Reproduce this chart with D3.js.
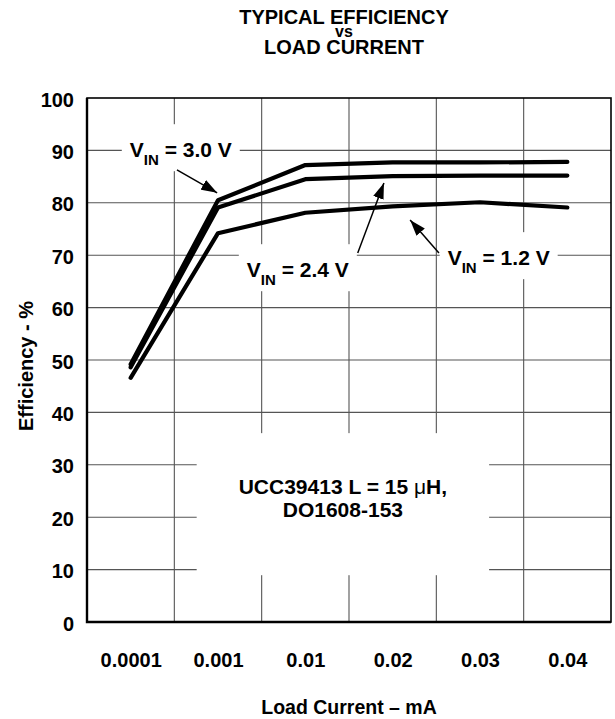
<!DOCTYPE html>
<html>
<head>
<meta charset="utf-8">
<script src="https://cdn.jsdelivr.net/npm/d3@7"></script>
<style>
  body { margin: 0; background: #fff; }
  text { font-family: "Liberation Sans", Arial, sans-serif; font-weight: bold; fill: #000; }
</style>
</head>
<body>
<svg id="chart" width="615" height="719"></svg>
<script>
// load current categories (mA) and efficiency (%) per input voltage
const categories = ['0.0001', '0.001', '0.01', '0.02', '0.03', '0.04'];
const vin30 = [49.2, 80.5, 87.2, 87.7, 87.7, 87.8];
const vin24 = [48.6, 79.1, 84.5, 85.1, 85.2, 85.2];
const vin12 = [46.6, 74.2, 78.1, 79.3, 80.1, 79.1];
const yTicks = [0, 10, 20, 30, 40, 50, 60, 70, 80, 90, 100];

const seriesList = [
    {name: '3.0 V', values: vin30},
    {name: '2.4 V', values: vin24},
    {name: '1.2 V', values: vin12}
];

// callouts: label anchor and arrow, x in category index units, y in %
const callouts = [
    {label: '3.0 V', tx: -0.01, ty: 88.7, from: [0.53, 86.3], to: [0.99, 81.9]},
    {label: '2.4 V', tx: 1.33, ty: 65.8, from: [2.60, 70.4], to: [2.90, 83.8]},
    {label: '1.2 V', tx: 3.63, ty: 68.1, from: [3.53, 70.4], to: [3.20, 76.7]}
];

const margin = {top: 98, right: 4, bottom: 97, left: 87};
const width = 615 - margin.left - margin.right;
const height = 719 - margin.top - margin.bottom;

const svg = d3.select('#chart');
const g = svg.append('g')
    .attr('transform', `translate(${margin.left}, ${margin.top})`);

const x = d3.scalePoint().domain(categories).range([0, width]).padding(0.5);
const xi = d3.scaleLinear().domain([-0.5, categories.length - 0.5]).range([0, width]);
const y = d3.scaleLinear().domain([0, 100]).range([height, 0]);

// grid
g.append('g').selectAll('line')
    .data(yTicks.slice(1, -1))
    .enter().append('line')
    .attr('x1', 0).attr('x2', width)
    .attr('y1', d => y(d)).attr('y2', d => y(d))
    .attr('stroke', '#555').attr('stroke-width', 1.1);

g.append('g').selectAll('line')
    .data(d3.range(1, categories.length))
    .enter().append('line')
    .attr('x1', d => xi(d - 0.5)).attr('x2', d => xi(d - 0.5))
    .attr('y1', 0).attr('y2', height)
    .attr('stroke', '#555').attr('stroke-width', 1.1);

// frame
g.append('rect')
    .attr('width', width).attr('height', height)
    .attr('fill', 'none').attr('stroke', '#000').attr('stroke-width', 1.6);
g.append('path')
    .attr('d', `M0,0V${height}H${width}`)
    .attr('fill', 'none').attr('stroke', '#000').attr('stroke-width', 2.4);

// axes
const yAxis = g.append('g')
    .call(d3.axisLeft(y).tickValues(yTicks).tickSize(0).tickPadding(13));
yAxis.select('.domain').remove();
yAxis.selectAll('text').style('font-size', '20px').attr('dy', '0.4em')
    .style('font-family', '"Liberation Sans", Arial, sans-serif').style('font-weight', 'bold');

const xAxis = g.append('g')
    .attr('transform', `translate(0, ${height})`)
    .call(d3.axisBottom(x).tickSize(0).tickPadding(31));
xAxis.select('.domain').remove();
xAxis.selectAll('text').style('font-size', '20px')
    .style('font-family', '"Liberation Sans", Arial, sans-serif').style('font-weight', 'bold');

// axis titles
svg.append('text')
    .attr('transform', `translate(33, ${margin.top + height / 2 + 6}) rotate(-90)`)
    .attr('text-anchor', 'middle')
    .style('font-size', '20px')
    .text('Efficiency - %');

svg.append('text')
    .attr('x', margin.left + width / 2)
    .attr('y', 714)
    .attr('text-anchor', 'middle')
    .style('font-size', '19.5px')
    .text('Load Current \u2013 mA');

// chart title, three tight lines
svg.append('text').attr('text-anchor', 'middle')
    .attr('x', 344).attr('y', 24).style('font-size', '20px').text('TYPICAL EFFICIENCY');
svg.append('text').attr('text-anchor', 'middle')
    .attr('x', 344).attr('y', 37).style('font-size', '16px').text('vs');
svg.append('text').attr('text-anchor', 'middle')
    .attr('x', 344).attr('y', 54).style('font-size', '20px').text('LOAD CURRENT');

// inductor note with white backing
const note = g.append('g');
const noteText = note.append('text').attr('text-anchor', 'middle').style('font-size', '21px');
const l1 = noteText.append('tspan').attr('x', xi(2.43)).attr('y', y(24.4));
l1.append('tspan').text('UCC39413 L = 15 ');
l1.append('tspan').style('font-weight', 'normal').text('\u03bc');
l1.append('tspan').text('H,');
noteText.append('tspan').attr('x', xi(2.43)).attr('y', y(20.0)).text('DO1608-153');
const nb = noteText.node().getBBox();
note.insert('rect', 'text')
    .attr('x', nb.x - 42).attr('y', nb.y - 42)
    .attr('width', nb.width + 84).attr('height', nb.height + 96)
    .attr('fill', '#fff');

// curves
const line = d3.line()
    .x((d, i) => x(categories[i]))
    .y(d => y(d));

g.append('g').selectAll('path')
    .data(seriesList)
    .enter().append('path')
    .attr('d', d => line(d.values))
    .attr('fill', 'none')
    .attr('stroke', '#000')
    .attr('stroke-width', 4.2)
    .attr('stroke-linecap', 'round')
    .attr('stroke-linejoin', 'round');

// callout labels and arrows
svg.append('defs').append('marker')
    .attr('id', 'head')
    .attr('markerUnits', 'userSpaceOnUse')
    .attr('viewBox', '0 -6 16 12')
    .attr('refX', 16).attr('refY', 0)
    .attr('markerWidth', 16).attr('markerHeight', 12)
    .attr('orient', 'auto')
    .append('path').attr('d', 'M0,-5.5L16,0L0,5.5Z').attr('fill', '#000');

callouts.forEach(c => {
    const grp = g.append('g');
    const t = grp.append('text')
        .attr('x', xi(c.tx)).attr('y', y(c.ty))
        .style('font-size', '21px');
    t.append('tspan').text('V');
    t.append('tspan').attr('dy', 8).style('font-size', '15px').text('IN');
    t.append('tspan').attr('dy', -8).text(' = ' + c.label);
    const b = t.node().getBBox();
    grp.insert('rect', 'text')
        .attr('x', b.x - 8).attr('y', b.y - 14)
        .attr('width', b.width + 16).attr('height', b.height + 17)
        .attr('fill', '#fff');
    g.append('line')
        .attr('x1', xi(c.from[0])).attr('y1', y(c.from[1]))
        .attr('x2', xi(c.to[0])).attr('y2', y(c.to[1]))
        .attr('stroke', '#000').attr('stroke-width', 1.5)
        .attr('marker-end', 'url(#head)');
});
</script>
</body>
</html>
